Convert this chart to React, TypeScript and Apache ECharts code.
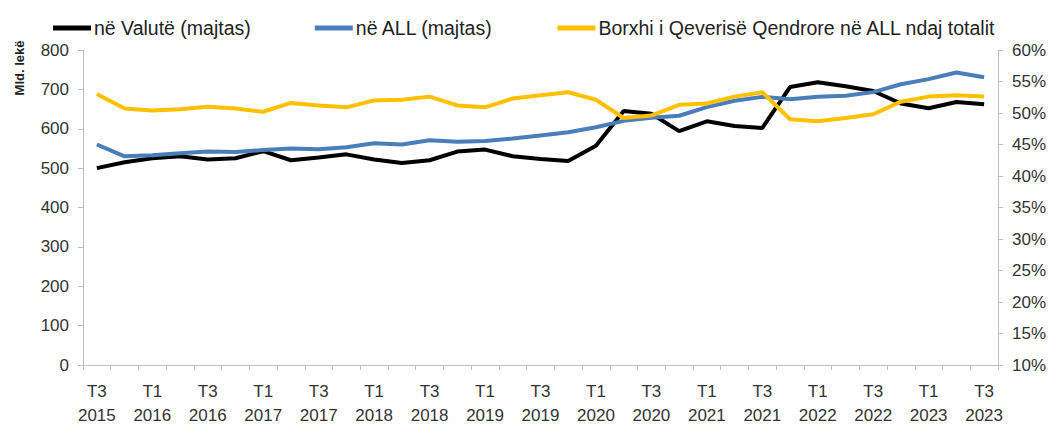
import React, { useEffect, useRef } from "react";
import * as echarts from "echarts";

const categories: string[] = [
  "T3\n2015", "T4\n2015", "T1\n2016", "T2\n2016", "T3\n2016", "T4\n2016",
  "T1\n2017", "T2\n2017", "T3\n2017", "T4\n2017", "T1\n2018", "T2\n2018",
  "T3\n2018", "T4\n2018", "T1\n2019", "T2\n2019", "T3\n2019", "T4\n2019",
  "T1\n2020", "T2\n2020", "T3\n2020", "T4\n2020", "T1\n2021", "T2\n2021",
  "T3\n2021", "T4\n2021", "T1\n2022", "T2\n2022", "T3\n2022", "T4\n2022",
  "T1\n2023", "T2\n2023", "T3\n2023",
];

const valuteSeries: number[] = [
  500, 515, 525, 530, 522, 525, 543, 520, 527, 535, 522, 513,
  520, 542, 547, 530, 523, 518, 557, 645, 638, 594, 619, 607,
  602, 706, 718, 708, 696, 664, 652, 668, 662,
];

const allSeries: number[] = [
  560, 530, 533, 538, 542, 541, 546, 550, 548, 553, 563, 560,
  571, 567, 569, 575, 583, 591, 604, 620, 628, 633, 655, 671,
  681, 675, 681, 684, 693, 713, 726, 743, 731,
];

const shareSeries: number[] = [
  53.0, 50.7, 50.4, 50.6, 51.0, 50.7, 50.2, 51.6, 51.2, 50.9, 52.0, 52.1,
  52.6, 51.2, 50.9, 52.3, 52.8, 53.3, 52.1, 49.2, 49.6, 51.3, 51.5, 52.6,
  53.3, 49.0, 48.7, 49.2, 49.8, 51.8, 52.6, 52.8, 52.6,
];

const seriesNames: string[] = [
  "në Valutë (majtas)",
  "në ALL (majtas)",
  "Borxhi i Qeverisë Qendrore në ALL ndaj totalit",
];

const FONT = "'Liberation Sans', Arial, sans-serif";
const TEXT = "#333333";
const AXIS = "#bfbfbf";

export default function App() {
  const ref = useRef<HTMLDivElement>(null);

  useEffect(() => {
    if (!ref.current) return;
    const chart = echarts.init(ref.current, null, { renderer: "svg" });
    chart.setOption({
      animation: false,
      backgroundColor: "#ffffff",
      textStyle: { fontFamily: FONT },
      legend: {
        left: 40,
        top: 5,
        itemGap: 64,
        itemWidth: 38,
        itemHeight: 5,
        icon: "rect",
        textStyle: { fontSize: 19.5, color: "#222", fontFamily: FONT, padding: [0, 0, 0, -2] },
        data: seriesNames,
      },
      graphic: [
        {
          type: "text",
          x: 11,
          y: 60,
          rotation: Math.PI / 2,
          style: {
            text: "Mld. lekë",
            fontSize: 13,
            fontWeight: "bold",
            fill: "#222",
            fontFamily: FONT,
            textAlign: "center",
            textVerticalAlign: "middle",
          },
        },
      ],
      grid: { left: 75, right: 46, top: 42, bottom: 54, containLabel: false },
      xAxis: {
        type: "category",
        data: categories,
        boundaryGap: true,
        axisLine: { lineStyle: { color: AXIS, width: 1 } },
        axisTick: { show: true, interval: 0, length: 5, lineStyle: { color: AXIS } },
        axisLabel: {
          interval: 1,
          color: TEXT,
          fontSize: 17,
          lineHeight: 24,
          margin: 14,
          fontFamily: FONT,
        },
        splitLine: { show: false },
      },
      yAxis: [
        {
          type: "value",
          min: 0,
          max: 800,
          interval: 100,
          position: "left",
          axisLine: { show: true, lineStyle: { color: AXIS } },
          axisTick: { show: true, length: 5, lineStyle: { color: AXIS } },
          axisLabel: { color: TEXT, fontSize: 17, margin: 14, fontFamily: FONT },
          splitLine: { show: false },
        },
        {
          type: "value",
          min: 10,
          max: 60,
          interval: 5,
          position: "right",
          axisLine: { show: true, lineStyle: { color: AXIS } },
          axisTick: { show: true, length: 5, lineStyle: { color: AXIS } },
          axisLabel: { color: TEXT, fontSize: 17, margin: 14, formatter: "{value}%", fontFamily: FONT },
          splitLine: { show: false },
        },
      ],
      series: [
        {
          name: seriesNames[0],
          type: "line",
          yAxisIndex: 0,
          data: valuteSeries,
          showSymbol: false,
          symbol: "none",
          itemStyle: { color: "#000000" },
          lineStyle: { color: "#000000", width: 4 },
          z: 3,
        },
        {
          name: seriesNames[1],
          type: "line",
          yAxisIndex: 0,
          data: allSeries,
          showSymbol: false,
          symbol: "none",
          itemStyle: { color: "#4a7ebb" },
          lineStyle: { color: "#4a7ebb", width: 4 },
          z: 4,
        },
        {
          name: seriesNames[2],
          type: "line",
          yAxisIndex: 1,
          data: shareSeries,
          showSymbol: false,
          symbol: "none",
          itemStyle: { color: "#ffc000" },
          lineStyle: { color: "#ffc000", width: 4 },
          z: 5,
        },
      ],
    });
    return () => chart.dispose();
  }, []);

  return <div ref={ref} style={{ width: 1041, height: 419 }} />;
}
